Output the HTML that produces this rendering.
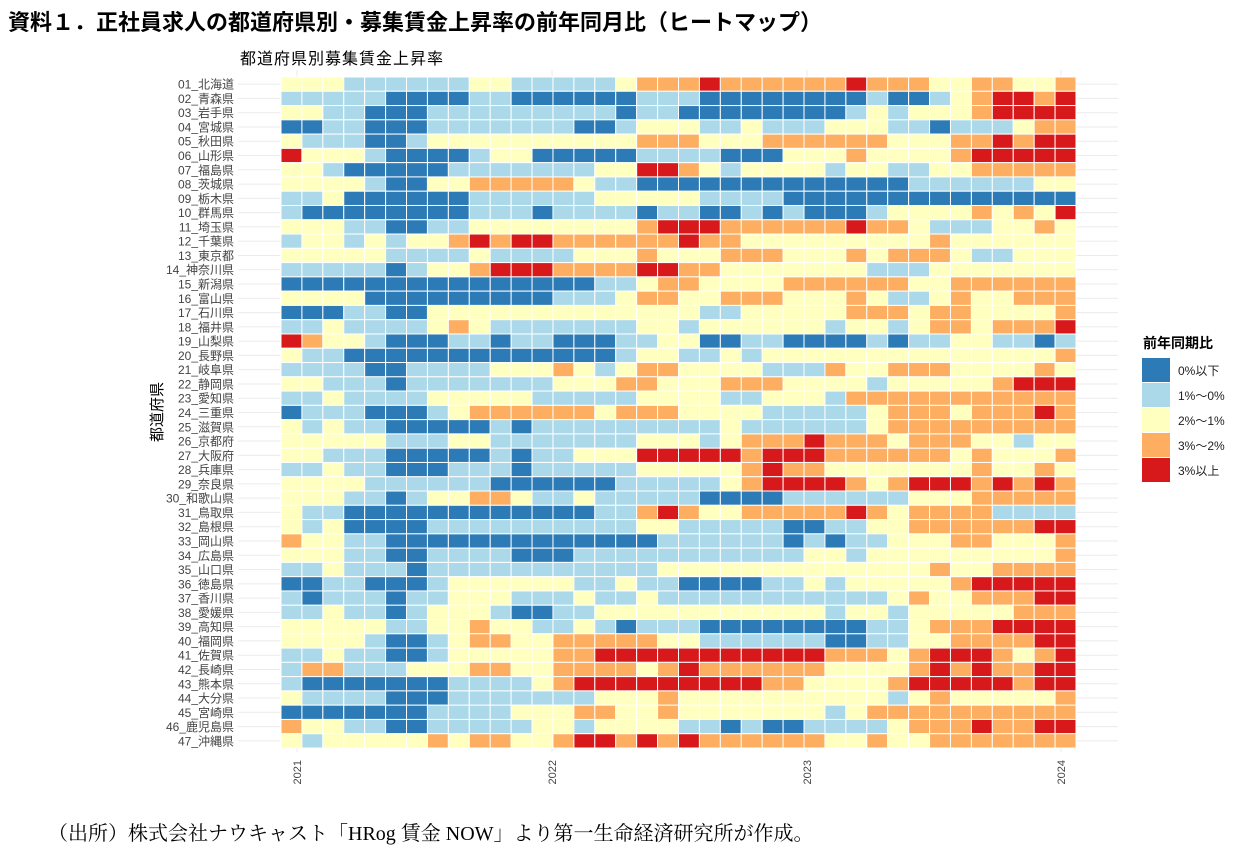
<!DOCTYPE html>
<html><head><meta charset="utf-8">
<style>
body{margin:0;background:#fff;width:1254px;height:856px;overflow:hidden;font-family:"Liberation Sans","Noto Sans CJK JP",sans-serif;}
</style></head>
<body>
<svg id="s" width="1254" height="856" xmlns="http://www.w3.org/2000/svg" style="position:absolute;left:0;top:0">
<text x="8" y="30" font-size="22" font-weight="bold" fill="#000" font-family="Liberation Sans,Noto Sans CJK JP,sans-serif">資料１．正社員求人の都道府県別・募集賃金上昇率の前年同月比（ヒートマップ）</text>
<text x="240" y="64" font-size="16" fill="#000" letter-spacing="1" font-family="Liberation Sans,Noto Sans CJK JP,sans-serif">都道府県別募集賃金上昇率</text>
<g id="grid"></g>
<g id="cells"></g>
<g id="labels" font-size="12" fill="#444" text-anchor="end" font-family="Liberation Sans,Noto Sans CJK JP,sans-serif"></g>
<text transform="translate(162,412) rotate(-90)" font-size="15" text-anchor="middle" fill="#000" font-family="Liberation Sans,Noto Sans CJK JP,sans-serif">都道府県</text>
<g font-size="11" fill="#444" font-family="Liberation Sans,sans-serif" text-anchor="end">
<text transform="translate(301,760) rotate(-90)">2021</text>
<text transform="translate(556,760) rotate(-90)">2022</text>
<text transform="translate(811,760) rotate(-90)">2023</text>
<text transform="translate(1065,760) rotate(-90)">2024</text>
</g>
<text x="1143" y="348" font-size="14" font-weight="bold" fill="#000" font-family="Liberation Sans,Noto Sans CJK JP,sans-serif">前年同期比</text>
<rect x="1142" y="358" width="28" height="24" fill="#2c7bb6"/>
<rect x="1142" y="383" width="28" height="24" fill="#abd9e9"/>
<rect x="1142" y="408" width="28" height="24" fill="#ffffbf"/>
<rect x="1142" y="433" width="28" height="24" fill="#fdae61"/>
<rect x="1142" y="458" width="28" height="24" fill="#d7191c"/>
<g font-size="12" fill="#222" font-family="Liberation Sans,Noto Sans CJK JP,sans-serif">
<text x="1178" y="375">0%以下</text>
<text x="1178" y="400">1%～0%</text>
<text x="1178" y="425">2%～1%</text>
<text x="1178" y="450">3%～2%</text>
<text x="1178" y="475">3%以上</text>
</g>
<text x="48" y="840" font-size="20" fill="#000" font-family="Liberation Serif,Noto Serif CJK SC,serif">（出所）株式会社ナウキャスト「HRog 賃金 NOW」より第一生命経済研究所が作成。</text>
</svg>
<script>
var names=["01_北海道","02_青森県","03_岩手県","04_宮城県","05_秋田県","06_山形県","07_福島県","08_茨城県","09_栃木県","10_群馬県","11_埼玉県","12_千葉県","13_東京都","14_神奈川県","15_新潟県","16_富山県","17_石川県","18_福井県","19_山梨県","20_長野県","21_岐阜県","22_静岡県","23_愛知県","24_三重県","25_滋賀県","26_京都府","27_大阪府","28_兵庫県","29_奈良県","30_和歌山県","31_鳥取県","32_島根県","33_岡山県","34_広島県","35_山口県","36_徳島県","37_香川県","38_愛媛県","39_高知県","40_福岡県","41_佐賀県","42_長崎県","43_熊本県","44_大分県","45_宮崎県","46_鹿児島県","47_沖縄県"];
var rows=[
"YYYLLLLLLYYLLLLLYOOOROOOOOOROOOYYOOYYO",
"LLLLLDDDDLLDDDDDDLLLDDDDDDDDLDDLYORROR",
"YYLLDDDLLLLLLLLLDLLDDDDDDDDLYLYYYORRRR",
"DDLLDDDLLLLLLLDDLYYYLLYLLLYYYLLDLLLYOO",
"YLLLDDLYYYYYYYYYYOOOYYYOOOOOOYYYOOROR R",
"RYYYLDDDDLYYDDDDDLLLLDDDYYYOYYYYORRRRR",
"YYLDDDDDLLLLLLLYYRROYLYYYYLYYLLYYOOOOO",
"YYYYLDDYYOOOOOYLLDDDDDDDDDDDDDLLLLLLYY",
"LLYDDDDDDLLLLLLYYYYYLLLLDDDDDDDDDDDDDD",
"LDDDDDDDDLLLDLLLLDLLDDLDLDDDLYYYYOYOYR",
"YYYLLDDLLYYYYYYYYORRROOOOOOROOYLLLYYOY",
"LYYLYLYYORORROOOOOOROOYYYYYYYYYOYYYYYY",
"YYYYYLLLLYLLLLYYYOYYYOOOYYYOYOOOYLLYYY",
"LLLLLDLYYORRROOOORROOYYYYYYYLLLYYYYYYY",
"DDDDDDDDDDDDDDDLLYOOYYYYOOOOOOYYOOOOOO",
"YYYYDDDDDDDDDLLLYOOYYOOOYYYOYLLYOYYOOO",
"DDDLLDDYYYYYYYYYYYYYLLYYYYYOOOYOOYYYYO",
"LLYLLLLYOYLLLLLLLYYLYYYYYYLYYLYOOYOOOR",
"ROYYLDDDLLDLLDDDLLYYDDLLDDDDLDLLYYLLDL",
"YLLDDDDDDDDDDDDDLYYLLYLYYYYYYYYYYYYYYO",
"LLLLDDLLLLYYYOYLYOOYYYYLLLOYYOOOYYYYOY",
"YYLLLDLLLLLLLYYYOOYYYOOOYYYYLYYYYYORRR",
"LLYLLLLYYYYYLLLLLYYYYLLYYYLOOOOOOOOOOO",
"DLLLDDDLYOOOOOOYOOOYYYYLLLLLYOOOYOOORO",
"YLYLLDDDDDLDLLLLLLLLLYLLLLLLYOOOOOOOOO",
"YYYYYLLLYYLLLLLLLYYYLYOOOROOOYOOOYYLYY",
"YYLLLDDDDDLDLLYYYRRRRRORRROOOOOOYOYYYO",
"LLYLLDDDLLLDLLLLLYYYYYOROOYYYYYYYOYYOY",
"YYYYLLLLLLDDDDDDLLLLLYORRRROYORRRORORO",
"YYYLLDLYYOOYLLYLLLLLDDDDLLLLLLYYYOOOOO",
"YLLDDDDDDDDDDDDLLOROYYOOOOOROYOOOOLLLL",
"YLYDDDDLLLLLLLLLLYYLLLLLDDLLYYOOOOOORR",
"OYYLLDDDDDDDDDDDDDLLLLLLDLDLLYYYOOYYYO",
"YYYLLDDLLLLDDDLLLLLLLLLLLYYLYYYYYYYYYO",
"LLYLLLDLLLLLLLLLLLYYYYYYYYYYYYYOYYOOOO",
"DDLLDDDLYYYYYYLLYLLDDDDLLYLYYYYYORRRRR",
"LDLLLDLLYYYLLLYLLYLLLLLLLLLLLYOYYOOORR",
"LLYLLDLYYYLDDLLYYYYYYYYYYYLYYLYYYYYOOO",
"YYYYYLLYYOYYLLYLDLLLDDDDDDDDLLYOOORRRR",
"YYYYLDDLYOOYYOOOOOYYLLLLLLDDLLYYOOOORR",
"LLYLLDDLYYYYYOORRRRRRRRRRROOOYORRROYOR",
"LOOLLLYYYOOYYOOOOYOROOOOOOYYYYOROROORR",
"LDDDDDDDLLLLYORRRRRRRRROOYYYYORRRRRORR",
"YLLLLDDDLLLLLLLYYYOYYYYYYYYYYLYOYYYYYO",
"DDDDDDDLLLLYYYOOYYOYYYYYYYLYOOOOOOOOOO",
"OYYLLDDLLLLLYYLYYYYLLDLDDLLLLYOOOROORR",
"YLYYYYYOYOOYYORROROROOOOOOYYOYYOOOOOOO"];
var col={D:"#2c7bb6",L:"#abd9e9",Y:"#ffffbf",O:"#fdae61",R:"#d7191c"};
var NS="http://www.w3.org/2000/svg";
var x0=281,y0=77,cw=(1076-281)/38,ch=(748-77)/47;
var g=document.getElementById("cells"),gl=document.getElementById("labels"),gg=document.getElementById("grid");
function el(p,t,a){var e=document.createElementNS(NS,t);for(var k in a)e.setAttribute(k,a[k]);p.appendChild(e);return e;}
for(var i=0;i<47;i++){
  var cy=y0+ch*(i+0.5);
  el(gg,"line",{x1:238,x2:1118,y1:cy,y2:cy,stroke:"#ebebeb","stroke-width":1});
}
[297,552,807,1061].forEach(function(x){el(gg,"line",{x1:x,x2:x,y1:70,y2:752,stroke:"#ebebeb","stroke-width":1});});
for(var i=0;i<47;i++){
  var r=rows[i].replace(/ /g,"");
  for(var j=0;j<38;j++){
    var c=r[j]||"Y";
    el(g,"rect",{x:x0+cw*j,y:y0+ch*i,width:cw,height:ch,fill:col[c],stroke:"#fff","stroke-width":1});
  }
  var t=el(gl,"text",{x:234,y:y0+ch*(i+0.5)+4.5});t.textContent=names[i];
}
</script>
</body></html>
